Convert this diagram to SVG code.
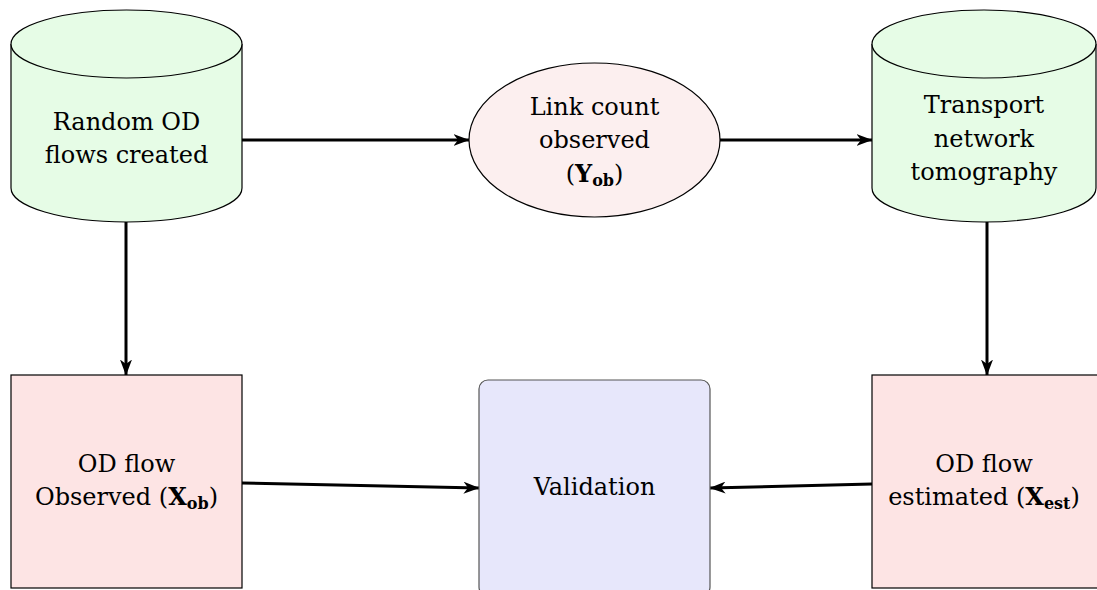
<svg xmlns="http://www.w3.org/2000/svg" width="1097" height="590" viewBox="0 0 1097 590">
<style>
text{font-family:"DejaVu Serif","Liberation Serif",serif;font-size:24px;fill:#000;text-anchor:middle}
.b{font-weight:bold}
.s{font-size:16px;font-weight:bold}
.cyl{fill:#e6fce6;stroke:#000;stroke-width:1.2}
.box{fill:#fde4e4;stroke:#000;stroke-width:1.2}
.edge{fill:none;stroke:#000;stroke-width:3}
</style>
<defs>
<marker id="ah" viewBox="0 0 16 12" refX="15.5" refY="6" markerWidth="16" markerHeight="12" markerUnits="userSpaceOnUse" orient="auto">
<path d="M0,0 L16,6 L0,12 L4.5,6 Z" fill="#000"/>
</marker>
</defs>
<g id="connectors">
<line class="edge" x1="242" y1="140" x2="469" y2="140" marker-end="url(#ah)"/>
<line class="edge" x1="720" y1="140" x2="872" y2="140" marker-end="url(#ah)"/>
<line class="edge" x1="126" y1="222" x2="126" y2="375" marker-end="url(#ah)"/>
<line class="edge" x1="987" y1="222" x2="987" y2="375" marker-end="url(#ah)"/>
<line class="edge" x1="242" y1="483" x2="479" y2="488" marker-end="url(#ah)"/>
<line class="edge" x1="872" y1="484" x2="710" y2="488" marker-end="url(#ah)"/>
</g>
<g id="random">
<path class="cyl" d="M11,44 L11,188 A115.5,34 0 0 0 242,188 L242,44"/>
<ellipse class="cyl" cx="126.5" cy="44" rx="115.5" ry="34"/>
<text x="126.5" y="130">Random OD</text>
<text x="126.5" y="163">flows created</text>
</g>
<g id="link">
<ellipse fill="#fcefef" stroke="#000" stroke-width="1.2" cx="594.5" cy="140" rx="125.5" ry="77"/>
<text x="594.5" y="115">Link count</text>
<text x="594.5" y="148">observed</text>
<text x="594.5" y="182">(<tspan class="b">Y</tspan><tspan class="s" dy="4">ob</tspan><tspan dy="-4">)</tspan></text>
</g>
<g id="tomography">
<path class="cyl" d="M872,44 L872,188 A112,34 0 0 0 1096,188 L1096,44"/>
<ellipse class="cyl" cx="984" cy="44" rx="112" ry="34"/>
<text x="984" y="113">Transport</text>
<text x="984" y="147">network</text>
<text x="984" y="180">tomography</text>
</g>
<g id="observed">
<rect class="box" x="11" y="375" width="231" height="213"/>
<text x="126.5" y="472">OD flow</text>
<text x="126.5" y="505">Observed (<tspan class="b">X</tspan><tspan class="s" dy="4">ob</tspan><tspan dy="-4">)</tspan></text>
</g>
<g id="validation">
<rect fill="#e7e7fb" stroke="#555" stroke-width="1.2" x="479" y="380" width="231" height="216" rx="9"/>
<text x="594.5" y="495">Validation</text>
</g>
<g id="estimated">
<rect class="box" x="872" y="375" width="231" height="213"/>
<text x="984" y="472">OD flow</text>
<text x="984" y="505">estimated (<tspan class="b">X</tspan><tspan class="s" dy="4">est</tspan><tspan dy="-4">)</tspan></text>
</g>
</svg>
